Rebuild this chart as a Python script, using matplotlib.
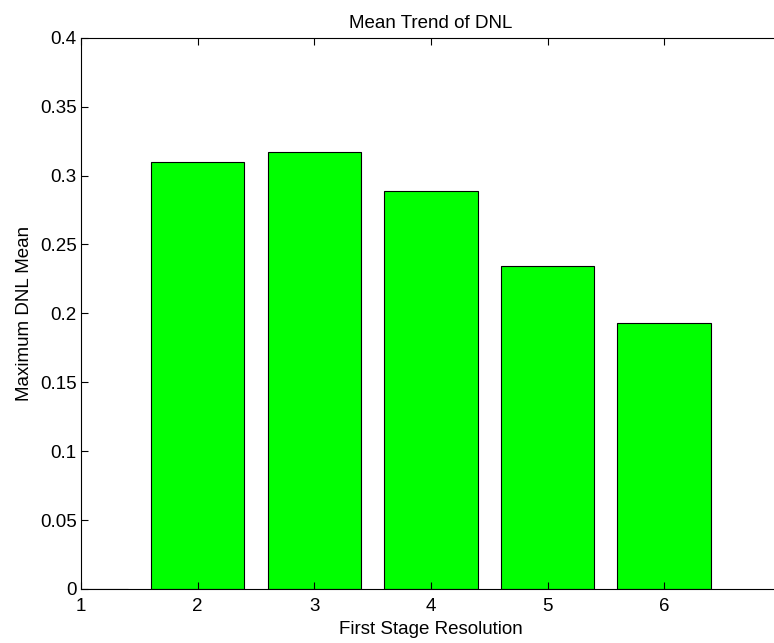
import matplotlib
matplotlib.use("Agg")
import matplotlib.pyplot as plt

plt.rcParams['font.family'] = ['Liberation Sans', 'DejaVu Sans']

# First stage resolution (bits) and max DNL mean
resolution = [1, 2, 3, 4, 5, 6]
dnl_mean = [0.0, 0.310, 0.317, 0.289, 0.234, 0.193]
y_ticks = [0, 0.05, 0.1, 0.15, 0.2, 0.25, 0.3, 0.35, 0.4]
y_tick_labels = ['0', '0.05', '0.1', '0.15', '0.2', '0.25', '0.3', '0.35', '0.4']

fig = plt.figure(figsize=(7.74, 6.43), dpi=100)
ax = fig.add_axes([0.1047, 0.084, 0.904, 0.8574])

ax.bar(resolution, dnl_mean, width=0.8, color='#00ff00', edgecolor='black', linewidth=0.8)

ax.set_xlim(1, 7)
ax.set_ylim(0, 0.4)
ax.set_xticks(resolution)
ax.set_yticks(y_ticks)
ax.set_yticklabels(y_tick_labels)
ax.tick_params(direction='in', length=5, width=0.8, top=True, right=True, labelsize=13.5)
ax.tick_params(axis='x', pad=6.5)
ax.tick_params(axis='y', pad=3)

for s in ax.spines.values():
    s.set_linewidth(0.8)

ax.set_xlabel("First Stage Resolution", fontsize=13.5, labelpad=4)
ax.set_ylabel("Maximum DNL Mean", fontsize=13.5, labelpad=5)
ax.set_title("Mean Trend of DNL", fontsize=13.5, pad=7)

fig.savefig("out.png", dpi=100)
